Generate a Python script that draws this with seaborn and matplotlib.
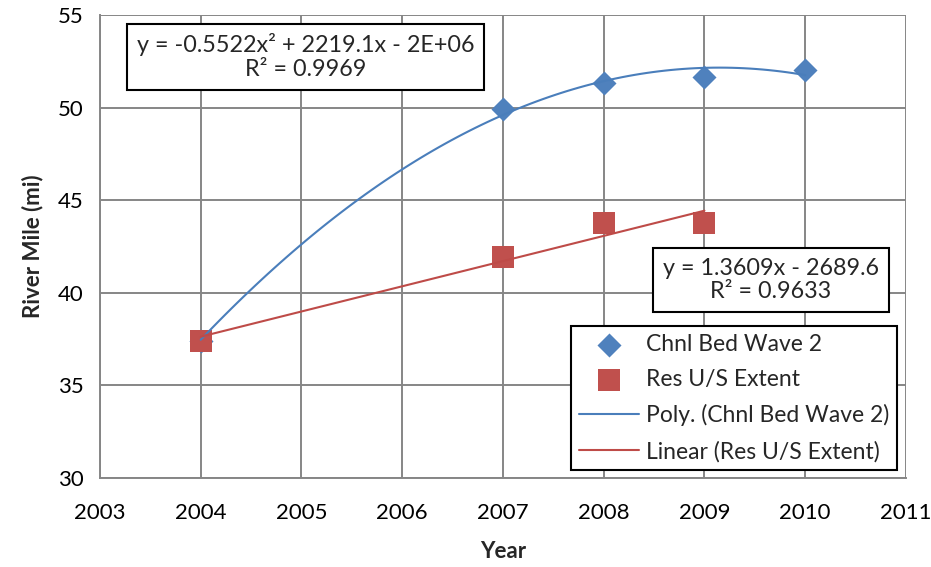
import matplotlib
matplotlib.use("Agg")
import matplotlib.pyplot as plt
import numpy as np
import pandas as pd
import seaborn as sns

# ---- data ------------------------------------------------------------------
WAVE_YEARS = [2004, 2007, 2008, 2009, 2010]
WAVE_MILE = [37.4, 49.95, 51.35, 51.65, 52.05]

RES_YEARS = [2004, 2007, 2008, 2009]
RES_MILE = [37.4, 41.95, 43.75, 43.75]

POLY_EQ = "y = -0.5522x\u00b2 + 2219.1x - 2E+06\nR\u00b2 = 0.9969"
LIN_EQ = "y = 1.3609x - 2689.6\nR\u00b2 = 0.9633"

BLUE = "#4F81BD"
RED = "#C0504D"
LINE_BLUE = "#4A7EBB"
LINE_RED = "#BE4B48"
GRID = "#868686"

wave = pd.DataFrame({"year": WAVE_YEARS, "mile": WAVE_MILE})
res = pd.DataFrame({"year": RES_YEARS, "mile": RES_MILE})

sns.set_theme(style="white")
plt.rcParams["font.family"] = ["Lato", "DejaVu Sans"]

fig = plt.figure(figsize=(9.31, 5.67), dpi=100)
ax = fig.add_axes([0.1074, 0.157, 0.8657, 0.8165])

sns.scatterplot(data=wave, x="year", y="mile", ax=ax, marker="D", s=150,
                color=BLUE, edgecolor=BLUE, linewidth=0, zorder=3,
                label="Chnl Bed Wave 2")
sns.scatterplot(data=res, x="year", y="mile", ax=ax, marker="s", s=260,
                color=RED, edgecolor=RED, linewidth=0, zorder=4,
                label="Res U/S Extent")
sns.regplot(data=wave, x="year", y="mile", ax=ax, order=2, ci=None,
            scatter=False, truncate=True, n_boot=0,
            label="Poly. (Chnl Bed Wave 2)",
            line_kws={"color": LINE_BLUE, "lw": 1.5, "zorder": 5})
sns.regplot(data=res, x="year", y="mile", ax=ax, order=1, ci=None,
            scatter=False, truncate=True, n_boot=0,
            label="Linear (Res U/S Extent)",
            line_kws={"color": LINE_RED, "lw": 1.5, "zorder": 5})

ax.set_xlim(2003, 2011)
ax.set_ylim(30, 55)
ax.set_xticks(range(2003, 2012))
ax.set_yticks(range(30, 56, 5))
ax.grid(True, color=GRID, lw=1.4)
ax.set_axisbelow(True)
for side in ["top", "right"]:
    ax.spines[side].set_visible(False)
for side in ["left", "bottom"]:
    ax.spines[side].set_color(GRID)
    ax.spines[side].set_linewidth(1.4)
ax.tick_params(axis="both", labelsize=16, length=0, colors="black")
ax.tick_params(axis="y", pad=12)
ax.tick_params(axis="x", pad=18)

ax.set_xlabel("Year", fontsize=16, fontweight="bold", labelpad=13)
ax.set_ylabel("River Mile (mi)", fontsize=16, fontweight="bold", labelpad=10)

box = dict(boxstyle="square,pad=0.42", facecolor="white", edgecolor="black",
           lw=1.5)
ax.text(2005.04, 52.75, POLY_EQ, ha="center", va="center", fontsize=16.8,
        linespacing=1.15, bbox=box, zorder=6)
ax.text(2009.66, 40.69, LIN_EQ, ha="center", va="center", fontsize=16.8,
        linespacing=1.15, bbox=box, zorder=6)

leg = ax.legend(loc="lower right", bbox_to_anchor=(0.989, 0.017),
                fontsize=16.5, frameon=True, fancybox=False, framealpha=1,
                edgecolor="black", borderpad=0.35, labelspacing=0.62,
                handlelength=2.6, handletextpad=0.3, borderaxespad=0)
leg.get_frame().set_linewidth(1.5)
leg.set_zorder(7)

fig.savefig("out.png", dpi=100)
